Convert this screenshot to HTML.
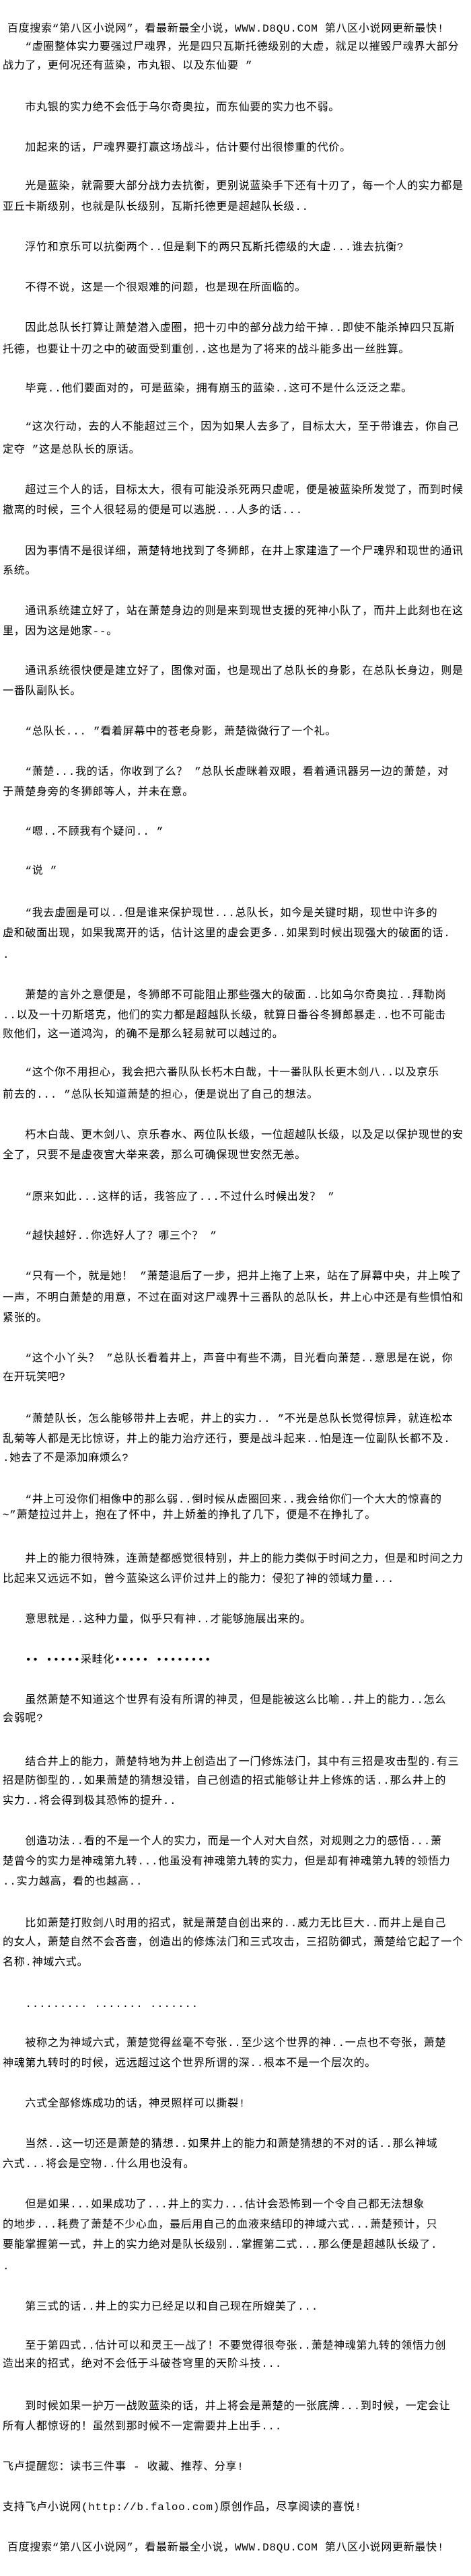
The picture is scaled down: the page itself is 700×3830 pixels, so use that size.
<!DOCTYPE html>
<html><head><meta charset="utf-8">
<style>
html,body{margin:0;padding:0;background:#fff;}
body{width:700px;height:3830px;position:relative;overflow:hidden;}
.l{position:absolute;left:4px;height:30px;line-height:30px;white-space:nowrap;font-family:"Liberation Mono","Noto Sans CJK SC",sans-serif;font-size:16px;letter-spacing:0.7px;color:#000;}
.h{left:11px;}
</style></head><body>
<div class="l h" style="top:28px">百度搜索“第八区小说网”，看最新最全小说，WWW.D8QU.COM  第八区小说网更新最快!</div>
<div class="l" style="top:55px">　　“虚圈整体实力要强过尸魂界，光是四只瓦斯托德级别的大虚，就足以摧毁尸魂界大部分</div>
<div class="l" style="top:83px">战力了，更何况还有蓝染，市丸银、以及东仙要 ”</div>
<div class="l" style="top:145px">　　市丸银的实力绝不会低于乌尔奇奥拉，而东仙要的实力也不弱。</div>
<div class="l" style="top:205px">　　加起来的话，尸魂界要打赢这场战斗，估计要付出很惨重的代价。</div>
<div class="l" style="top:262px">　　光是蓝染，就需要大部分战力去抗衡，更别说蓝染手下还有十刃了，每一个人的实力都是</div>
<div class="l" style="top:293px">亚丘卡斯级别，也就是队长级别，瓦斯托德更是超越队长级..</div>
<div class="l" style="top:353px">　　浮竹和京乐可以抗衡两个..但是剩下的两只瓦斯托德级的大虚...谁去抗衡?</div>
<div class="l" style="top:413px">　　不得不说，这是一个很艰难的问题，也是现在所面临的。</div>
<div class="l" style="top:473px">　　因此总队长打算让萧楚潜入虚圈，把十刃中的部分战力给干掉..即使不能杀掉四只瓦斯</div>
<div class="l" style="top:505px">托德，也要让十刃之中的破面受到重创..这也是为了将来的战斗能多出一丝胜算。</div>
<div class="l" style="top:563px">　　毕竟..他们要面对的，可是蓝染，拥有崩玉的蓝染..这可不是什么泛泛之辈。</div>
<div class="l" style="top:620px">　　“这次行动，去的人不能超过三个，因为如果人去多了，目标太大，至于带谁去，你自己</div>
<div class="l" style="top:654px">定夺 ”这是总队长的原话。</div>
<div class="l" style="top:714px">　　超过三个人的话，目标太大，很有可能没杀死两只虚呢，便是被蓝染所发觉了，而到时候</div>
<div class="l" style="top:744px">撤离的时候，三个人很轻易的便是可以逃脱...人多的话...</div>
<div class="l" style="top:805px">　　因为事情不是很详细，萧楚特地找到了冬狮郎，在井上家建造了一个尸魂界和现世的通讯</div>
<div class="l" style="top:834px">系统。</div>
<div class="l" style="top:894px">　　通讯系统建立好了，站在萧楚身边的则是来到现世支援的死神小队了，而井上此刻也在这</div>
<div class="l" style="top:924px">里，因为这是她家--。</div>
<div class="l" style="top:983px">　　通讯系统很快便是建立好了，图像对面，也是现出了总队长的身影，在总队长身边，则是</div>
<div class="l" style="top:1013px">一番队副队长。</div>
<div class="l" style="top:1073px">　　“总队长... ”看着屏幕中的苍老身影，萧楚微微行了一个礼。</div>
<div class="l" style="top:1133px">　　“萧楚...我的话，你收到了么？ ”总队长虚眯着双眼，看着通讯器另一边的萧楚，对</div>
<div class="l" style="top:1163px">于萧楚身旁的冬狮郎等人，并未在意。</div>
<div class="l" style="top:1222px">　　“嗯..不顾我有个疑问.. ”</div>
<div class="l" style="top:1280px">　　“说 ”</div>
<div class="l" style="top:1343px">　　“我去虚圈是可以..但是谁来保护现世...总队长，如今是关键时期，现世中许多的</div>
<div class="l" style="top:1373px">虚和破面出现，如果我离开的话，估计这里的虚会更多..如果到时候出现强大的破面的话.</div>
<div class="l" style="top:1405px">.</div>
<div class="l" style="top:1465px">　　萧楚的言外之意便是，冬狮郎不可能阻止那些强大的破面..比如乌尔奇奥拉..拜勒岗</div>
<div class="l" style="top:1495px">..以及一十刃斯塔克，他们的实力都是超越队长级，就算日番谷冬狮郎暴走..也不可能击</div>
<div class="l" style="top:1523px">败他们，这一道鸿沟，的确不是那么轻易就可以越过的。</div>
<div class="l" style="top:1580px">　　“这个你不用担心，我会把六番队队长朽木白哉，十一番队队长更木剑八..以及京乐</div>
<div class="l" style="top:1613px">前去的... ”总队长知道萧楚的担心，便是说出了自己的想法。</div>
<div class="l" style="top:1673px">　　朽木白哉、更木剑八、京乐春水、两位队长级，一位超越队长级，以及足以保护现世的安</div>
<div class="l" style="top:1703px">全了，只要不是虚夜宫大举来袭，那么可确保现世安然无恙。</div>
<div class="l" style="top:1765px">　　“原来如此...这样的话，我答应了...不过什么时候出发？ ”</div>
<div class="l" style="top:1823px">　　“越快越好..你选好人了？哪三个？ ”</div>
<div class="l" style="top:1883px">　　“只有一个，就是她！ ”萧楚退后了一步，把井上拖了上来，站在了屏幕中央，井上唉了</div>
<div class="l" style="top:1915px">一声，不明白萧楚的用意，不过在面对这尸魂界十三番队的总队长，井上心中还是有些惧怕和</div>
<div class="l" style="top:1945px">紧张的。</div>
<div class="l" style="top:2005px">　　“这个小丫头？ ”总队长看着井上，声音中有些不满，目光看向萧楚..意思是在说，你</div>
<div class="l" style="top:2033px">在开玩笑吧?</div>
<div class="l" style="top:2095px">　　“萧楚队长，怎么能够带井上去呢，井上的实力.. ”不光是总队长觉得惊异，就连松本</div>
<div class="l" style="top:2125px">乱菊等人都是无比惊讶，井上的能力治疗还行，要是战斗起来..怕是连一位副队长都不及.</div>
<div class="l" style="top:2153px">.她去了不是添加麻烦么?</div>
<div class="l" style="top:2215px">　　“井上可没你们相像中的那么弱..倒时候从虚圈回来..我会给你们一个大大的惊喜的</div>
<div class="l" style="top:2238px">~”萧楚拉过井上，抱在了怀中，井上娇羞的挣扎了几下，便是不在挣扎了。</div>
<div class="l" style="top:2303px">　　井上的能力很特殊，连萧楚都感觉很特别，井上的能力类似于时间之力，但是和时间之力</div>
<div class="l" style="top:2333px">比起来又远远不如，曾今蓝染这么评价过井上的能力：侵犯了神的领域力量...</div>
<div class="l" style="top:2393px">　　意思就是..这种力量，似乎只有神..才能够施展出来的。</div>
<div class="l" style="top:2453px">　　•• •••••采畦化••••• ••••••••</div>
<div class="l" style="top:2513px">　　虽然萧楚不知道这个世界有没有所谓的神灵，但是能被这么比喻..井上的能力..怎么</div>
<div class="l" style="top:2540px">会弱呢?</div>
<div class="l" style="top:2605px">　　结合井上的能力，萧楚特地为井上创造出了一门修炼法门，其中有三招是攻击型的.有三</div>
<div class="l" style="top:2633px">招是防御型的..如果萧楚的猜想没错，自己创造的招式能够让井上修炼的话..那么井上的</div>
<div class="l" style="top:2663px">实力..将会得到极其恐怖的提升..</div>
<div class="l" style="top:2723px">　　创造功法..看的不是一个人的实力，而是一个人对大自然，对规则之力的感悟...萧</div>
<div class="l" style="top:2753px">楚曾今的实力是神魂第九转...他虽没有神魂第九转的实力，但是却有神魂第九转的领悟力</div>
<div class="l" style="top:2783px">..实力越高，看的也越高..</div>
<div class="l" style="top:2845px">　　比如萧楚打败剑八时用的招式，就是萧楚自创出来的..威力无比巨大..而井上是自己</div>
<div class="l" style="top:2873px">的女人，萧楚自然不会吝啬，创造出的修炼法门和三式攻击，三招防御式，萧楚给它起了一个</div>
<div class="l" style="top:2903px">名称.神域六式。</div>
<div class="l" style="top:2965px">　　......... ....... .......</div>
<div class="l" style="top:3023px">　　被称之为神域六式，萧楚觉得丝毫不夸张..至少这个世界的神..一点也不夸张，萧楚</div>
<div class="l" style="top:3053px">神魂第九转时的时候，远远超过这个世界所谓的深..根本不是一个层次的。</div>
<div class="l" style="top:3113px">　　六式全部修炼成功的话，神灵照样可以撕裂!</div>
<div class="l" style="top:3173px">　　当然..这一切还是萧楚的猜想..如果井上的能力和萧楚猜想的不对的话..那么神域</div>
<div class="l" style="top:3203px">六式...将会是空物..什么用也没有。</div>
<div class="l" style="top:3263px">　　但是如果...如果成功了...井上的实力...估计会恐怖到一个令自己都无法想象</div>
<div class="l" style="top:3293px">的地步...耗费了萧楚不少心血，最后用自己的血液来结印的神域六式...萧楚预计，只</div>
<div class="l" style="top:3323px">要能掌握第一式，井上的实力绝对是队长级别..掌握第二式...那么便是超越队长级了.</div>
<div class="l" style="top:3355px">.</div>
<div class="l" style="top:3415px">　　第三式的话..井上的实力已经足以和自己现在所媲美了...</div>
<div class="l" style="top:3473px">　　至于第四式..估计可以和灵王一战了！不要觉得很夸张..萧楚神魂第九转的领悟力创</div>
<div class="l" style="top:3500px">造出来的招式，绝对不会低于斗破苍穹里的天阶斗技...</div>
<div class="l" style="top:3563px">　　到时候如果一护万一战败蓝染的话，井上将会是萧楚的一张底牌...到时候，一定会让</div>
<div class="l" style="top:3593px">所有人都惊讶的！虽然到那时候不一定需要井上出手...</div>
<div class="l" style="top:3653px">飞卢提醒您：读书三件事 - 收藏、推荐、分享!</div>
<div class="l" style="top:3713px">支持飞卢小说网(http://b.faloo.com)原创作品，尽享阅读的喜悦!</div>
<div class="l h" style="top:3773px">百度搜索“第八区小说网”，看最新最全小说，WWW.D8QU.COM  第八区小说网更新最快!</div>
</body></html>
